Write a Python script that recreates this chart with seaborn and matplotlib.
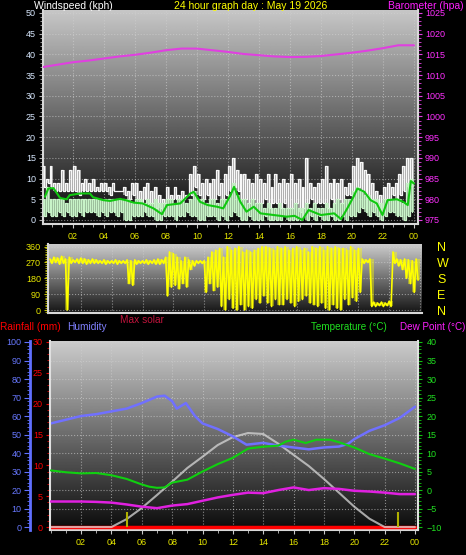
import numpy as np
import matplotlib
matplotlib.use("Agg")
import matplotlib.pyplot as plt
import seaborn as sns
from matplotlib.ticker import MultipleLocator

# ---------------- DATA ----------------
hour_ticks = [2, 4, 6, 8, 10, 12, 14, 16, 18, 20, 22, 24]
hour_labels = ["02", "04", "06", "08", "10", "12", "14", "16", "18", "20", "22", "00"]

slot_h = 0.25  # 15-minute slots, each with a high and a low reading
gust_hi = [13, 10, 13, 9,   9, 12, 9, 12,   13, 12, 9, 10,   9, 10, 8, 9,
           9, 8, 9, 7,      7, 8, 7, 9,     9, 7, 8, 9,      7, 8, 6, 5,
           8, 6, 8, 6,      7, 6, 11, 13,   11, 9, 10, 9,    10, 12, 9, 11,
           13, 15, 12, 11,  11, 10, 9, 11,  10, 9, 11, 8,    11, 9, 10, 9,
           11, 9, 10, 8,    15, 9, 8, 9,    10, 13, 9, 10,   9, 10, 8, 9,
           13, 15, 14, 12,  11, 9, 7, 6,    8, 9, 8, 9,      11, 13, 15, 15]
gust_lo = [8, 9, 8, 7,   7, 7, 7, 7,   7, 6, 7, 7,   7, 7, 7, 7,
           7, 6, 7, 7,   7, 6, 5, 6,   5, 4, 5, 4,   4, 3, 3, 4,
           5, 5, 5, 5,   5, 6, 6, 8,   6, 5, 6, 5,   5, 6, 5, 6,
           7, 8, 7, 5,   5, 4, 5, 4,   4, 5, 3, 4,   4, 3, 4, 3,
           3, 4, 2, 3,   4, 5, 4, 4,   4, 3, 5, 4,   5, 4, 6, 6,
           7, 8, 7, 6,   5, 4, 3, 2,   5, 5, 6, 5,   6, 7, 8, 8]
speed_hi = [5, 8, 5, 5,  5, 5, 4, 5,  5, 5, 5, 5,  5, 5, 5, 5,
            5, 5, 5, 5,  5, 5, 5, 4,  5, 5, 4, 5,  4, 5, 4, 4,
            5, 5, 4, 5,  5, 4, 5, 7,  5, 5, 4, 5,  5, 4, 5, 5,
            6, 9, 6, 5,  5, 4, 5, 4,  4, 3, 4, 3,  3, 4, 3, 3,
            3, 4, 3, 3,  4, 3, 4, 3,  3, 4, 3, 4,  5, 4, 5, 5,
            7, 8, 7, 6,  6, 5, 5, 4,  5, 5, 5, 5,  5, 4, 9, 10]
speed_lo = [1, 2, 1, 1,  2, 1, 2, 1,  1, 2, 1, 2,  2, 2, 1, 2,
            1, 2, 2, 1,  2, 0, 0, 1,  1, 1, 2, 1,  1, 0, 0, 1,
            1, 1, 0, 1,  1, 2, 1, 1,  0, 0, 1, 1,  1, 0, 1, 0,
            1, 2, 1, 0,  0, 1, 0, 0,  0, 1, 0, 0,  0, 0, 1, 0,
            0, 0, 0, 1,  0, 1, 0, 1,  0, 0, 1, 0,  0, 1, 0, 1,
            1, 2, 3, 2,  1, 2, 1, 0,  1, 2, 2, 1,  1, 0, 1, 2]
avg_time = [0.2, 0.42, 0.75, 1.18, 1.6, 1.8, 2.47, 3.1, 3.3, 3.96, 4.4, 5.05, 5.5,
            5.9, 6.5, 7.2, 7.75, 8.07, 8.93, 9.58, 9.8, 10.2, 10.7, 11.3, 11.7, 12.17,
            12.4, 12.8, 13.2, 13.67, 14.1, 14.95, 15.8, 16.3, 16.8, 17.2, 18.0, 18.85,
            19.3, 19.7, 20.1, 20.35, 20.8, 21.2, 21.6, 21.97, 22.3, 22.9, 23.3, 23.6,
            23.8, 24.0]
avg_speed = [5.6, 7.6, 7.7, 5.3, 5.0, 6.0, 6.4, 6.4, 5.5, 4.8, 4.6, 5.1, 4.7,
             4.2, 4.0, 2.8, 1.4, 3.6, 4.0, 6.4, 6.8, 4.4, 3.6, 3.2, 2.8, 6.0,
             8.0, 4.4, 2.0, 3.2, 1.6, 1.2, 0.8, 1.0, 0.0, 2.4, 1.2, 1.6,
             0.2, 2.8, 5.6, 7.6, 6.8, 4.8, 4.0, 1.2, 4.8, 5.0, 4.4, 3.6,
             9.4, 8.8]
baro_time = list(range(25))
baro_hpa = [1011.9, 1012.5, 1013.1, 1013.5, 1014.0, 1014.5, 1014.9, 1015.4, 1016.0,
            1016.4, 1016.4, 1016.0, 1015.6, 1015.1, 1014.8, 1014.5, 1014.35, 1014.4,
            1014.6, 1015.0, 1015.4, 1015.9, 1016.5, 1017.2, 1017.2]

dir_hi = [290, 300, 295, 305,  290, 300, 285, 290,  295, 290, 285, 290,  285, 280, 285, 280,
          280, 285, 280, 280,  285, 280, 285, 280,  280, 285, 280, 285,  290, 285, 300, 330,
          320, 300, 280, 300,  285, 280, 280, 280,  280, 300, 330, 340,  350, 300, 360, 340,
          350, 360, 330, 340,  330, 340, 350, 360,  360, 350, 340, 360,  350, 360, 340, 350,
          360, 340, 350, 330,  360, 350, 360, 340,  360, 350, 360, 350,  350, 340, 360, 340,
          350, 290, 285, 290,  45, 40, 45, 40,     50, 330, 290, 285,  290, 285, 280, 290]
dir_lo = [265, 270, 260, 265,  0, 265, 270, 265,    265, 260, 265, 265,  265, 265, 260, 265,
          265, 260, 265, 265,  150, 140, 260, 265,  265, 260, 265, 260,  260, 265, 80, 130,
          140, 120, 150, 130,  230, 250, 265, 265,  100, 150, 110, 130,  20, 0, 60, 10,
          0, 30, 0, 20,        10, 60, 40, 80,      40, 20, 60, 30,      30, 60, 40, 20,
          50, 60, 80, 40,      30, 20, 40, 10,      0, 30, 10, 0,        60, 30, 70, 50,
          100, 265, 270, 20,   20, 25, 20, 25,      20, 265, 250, 230,   180, 150, 100, 170]
dir_ticks = [360, 270, 180, 90, 0]
dir_labels = ["N", "W", "S", "E", "N"]

hum_time = [0, 1, 2, 3, 4, 5, 6, 7, 7.5, 8, 8.3, 8.9, 9.5, 10, 11, 12, 12.9, 14, 15, 16,
            17, 18, 19, 19.6, 20, 21, 22, 23, 24]
hum_pct = [56, 58, 60, 61, 62.5, 64, 67, 70.5, 71, 68, 64, 67, 60, 56, 53, 49, 44.5, 45.5,
           44, 43, 42, 43, 43.5, 45, 47.5, 52, 55, 59, 65]
temp_time = [0, 1, 2, 3, 4, 5, 6, 6.5, 7, 7.5, 8, 9, 10, 11, 12, 13, 14, 15, 15.5, 16,
             16.8, 17.5, 18.4, 19, 20, 21, 22, 23, 24]
temp_c = [5.3, 4.8, 4.5, 4.6, 4.0, 3.0, 1.5, 0.9, 0.6, 0.7, 2.0, 2.8, 5.0, 7.0, 8.7, 11.2,
          11.7, 12.0, 13.1, 13.6, 12.7, 13.6, 13.6, 12.9, 11.5, 9.7, 8.5, 7.2, 5.7]
dew_time = list(range(25))
dew_c = [-3.1, -3.1, -3.1, -3.2, -3.4, -3.9, -4.5, -4.9, -4.2, -3.8, -2.9, -2.0, -1.3,
         -0.7, -0.85, 0.0, 0.7, 0.0, 0.5, 0.3, -0.2, -0.4, -0.7, -1.1, -1.1]
solar_time = list(range(25))
solar_val = [0, 0, 0, 0, 0, 4.3, 10.3, 17.3, 24.5, 31.9, 38.0, 44.3, 48.6, 50.8, 50.3,
             45.0, 39.0, 33.0, 26.0, 18.5, 11.0, 4.5, 0, 0, 0]
rain_time = [0, 24]
rain_mm = [0, 0]
marker_time = [5.05, 22.9]
marker_len = [8.3, 8.3]

# ---------------- STYLE ----------------
sns.set_style("dark")
plt.rcParams['font.family'] = ['Liberation Sans', 'DejaVu Sans']

W, H = 466, 555
fig = plt.figure(figsize=(W / 100, H / 100), dpi=100, facecolor='black')


def rect(l, t, r, b):
    return [l / W, 1 - b / H, (r - l) / W, (b - t) / H]


def gradient(ax, top, bottom):
    g = np.linspace(top, bottom, 256).reshape(-1, 1)
    ax.imshow(g, cmap='gray', vmin=0, vmax=1, aspect='auto', extent=(0, 1, 0, 1),
              transform=ax.transAxes, zorder=0, interpolation='bilinear')


def frame(ax):
    ax.set_facecolor('black')
    for s in ax.spines.values():
        s.set_visible(False)
    for s in ('left', 'bottom'):
        ax.spines[s].set_visible(True)
        ax.spines[s].set_color('#d8d8d8')
        ax.spines[s].set_linewidth(1.5)
    ax.grid(True, color='#d0d0d0', ls=':', lw=0.8, alpha=0.6)


def fpx(x, y, s, **kw):
    fig.text(x / W, 1 - y / H, s, va='center', **kw)


t_slot = np.arange(len(gust_hi)) * slot_h
t_edges = np.append(t_slot, t_slot[-1] + slot_h)


def zigzag(hi, lo):
    x = np.column_stack([t_slot, t_slot + slot_h / 2]).ravel()
    y = np.column_stack([hi, lo]).ravel()
    return x, y


def band(ax, hi, lo, color, alpha, z):
    ax.fill_between(t_edges, np.append(lo, lo[-1]), np.append(hi, hi[-1]), step='post',
                    color=color, alpha=alpha, lw=0, zorder=z)


# ---------------- PANEL 1 : wind + barometer ----------------
ax1 = fig.add_axes(rect(43, 10, 418, 224))
frame(ax1)
gradient(ax1, 0.78, 0.04)
band(ax1, gust_hi, gust_lo, '#d0d0d0', 0.68, 2.5)
gx, gy = zigzag(gust_hi, gust_lo)
sns.lineplot(x=gx, y=gy, ax=ax1, color='#f8f8f8', lw=0.9, drawstyle='steps-post',
             sort=False, estimator=None, legend=False, zorder=3)
band(ax1, speed_hi, speed_lo, '#c4f0c4', 0.7, 3.5)
sx, sy = zigzag(speed_hi, speed_lo)
sns.lineplot(x=sx, y=sy, ax=ax1, color='#c8f4c8', lw=0.9, drawstyle='steps-post',
             sort=False, estimator=None, legend=False, zorder=4)
sns.lineplot(x=avg_time, y=avg_speed, ax=ax1, color='#10c810', lw=1.5,
             sort=False, estimator=None, legend=False, zorder=5)
ax1.set_xlim(0.077, 24.26)
ax1.set_ylim(-0.97, 50.72)
ax1.set_xticks(hour_ticks)
ax1.set_xticklabels(hour_labels)
ax1.xaxis.set_minor_locator(MultipleLocator(2 / 3))
ax1.set_yticks(range(0, 51, 5))
ax1.yaxis.set_minor_locator(MultipleLocator(1))
ax1.tick_params(axis='x', which='both', bottom=True, colors='#c8c8c8', labelcolor='#e8e800',
                labelsize=6.5, length=3, pad=3, direction='out')
ax1.tick_params(axis='y', which='both', left=True, colors='#b0b0b0', labelcolor='#d8e8ff',
                labelsize=6.5, length=3, pad=2, direction='out')
ax1.tick_params(which='minor', length=2)
ax1.set_xlabel('')
ax1.set_ylabel('')

ax1b = ax1.twinx()
for s in ax1b.spines.values():
    s.set_visible(False)
ax1b.spines['right'].set_visible(True)
ax1b.spines['right'].set_color('#d8d8d8')
ax1b.spines['right'].set_linewidth(1.5)
sns.lineplot(x=baro_time, y=baro_hpa, ax=ax1b, color='#e040e0', lw=1.5,
             sort=False, estimator=None, legend=False)
ax1b.set_ylim(974.03, 1025.72)
ax1b.set_yticks(range(975, 1026, 5))
ax1b.yaxis.set_minor_locator(MultipleLocator(1))
ax1b.tick_params(axis='y', which='both', right=True, colors='#e040e0', labelcolor='#ff30ff',
                 labelsize=6.5, length=3, pad=2, direction='out')
ax1b.tick_params(which='minor', length=2)
ax1b.grid(False)
ax1b.set_ylabel('')

# ---------------- PANEL 2 : wind direction ----------------
ax2 = fig.add_axes(rect(48, 244, 422, 313))
frame(ax2)
gradient(ax2, 0.80, 0.08)
band(ax2, dir_hi, dir_lo, '#ffff00', 0.4, 2.5)
dx, dy = zigzag(dir_hi, dir_lo)
sns.lineplot(x=dx, y=dy, ax=ax2, color='#ffff00', lw=1.2, sort=False, estimator=None,
             legend=False, zorder=3)
ax2.set_xlim(-0.13, 24.13)
ax2.set_ylim(-17, 375)
ax2.set_xticks(hour_ticks)
ax2.set_xticklabels([])
ax2.tick_params(axis='x', which='both', length=0)
ax2.set_yticks([0, 90, 180, 270, 360])
ax2.yaxis.set_minor_locator(MultipleLocator(10))
ax2.tick_params(axis='y', which='both', left=True, colors='#c8c800', labelcolor='#e8e800',
                labelsize=6.5, length=3, pad=2, direction='out')
ax2.tick_params(axis='y', which='minor', length=2)
ax2.set_xlabel('')
ax2.set_ylabel('')

ax2r = ax2.twinx()
for s in ax2r.spines.values():
    s.set_visible(False)
ax2r.set_ylim(-17, 375)
ax2r.set_yticks(dir_ticks)
ax2r.set_yticklabels(dir_labels)
ax2r.tick_params(axis='y', right=True, length=0, pad=11, labelsize=9, labelcolor='#ffff00')
ax2r.grid(False)

# ---------------- PANEL 3 : temp / humidity / dew / rain / solar ----------------
ax3 = fig.add_axes(rect(50, 341, 418, 530))
frame(ax3)
gradient(ax3, 0.80, 0.04)
ax3.spines['left'].set_position(('outward', 14.4))
ax3.spines['left'].set_color('#6070ff')
ax3.spines['left'].set_linewidth(2)
sns.lineplot(x=rain_time, y=rain_mm, ax=ax3, color='#ff0000', lw=2.5, sort=False,
             estimator=None, legend=False, zorder=3)
sns.lineplot(x=solar_time, y=solar_val, ax=ax3, color='#d8d8d8', lw=1.5, alpha=0.75,
             sort=False, estimator=None, legend=False, zorder=4)
ax3.vlines(marker_time, 0, marker_len, color='#b0b000', lw=1.5, zorder=5)
sns.lineplot(x=hum_time, y=hum_pct, ax=ax3, color='#7070ff', lw=1.8, sort=False,
             estimator=None, legend=False, zorder=6)
ax3.set_xlim(-0.05, 24.2)
ax3.set_ylim(-1.6, 100.54)
ax3.set_xticks(hour_ticks)
ax3.set_xticklabels(hour_labels)
ax3.xaxis.set_minor_locator(MultipleLocator(1))
ax3.set_yticks(range(0, 101, 10))
ax3.yaxis.set_minor_locator(MultipleLocator(2))
ax3.tick_params(axis='x', which='both', bottom=True, colors='#c8c8c8', labelcolor='#e8e800',
                labelsize=6.5, length=3, pad=3, direction='out')
ax3.tick_params(axis='y', which='both', left=True, colors='#6070ff', labelcolor='#6878ff',
                labelsize=6.5, length=4, pad=2, direction='out')
ax3.tick_params(which='minor', length=2)
ax3.set_xlabel('')
ax3.set_ylabel('')

ax3r = ax3.twinx()
for s in ax3r.spines.values():
    s.set_visible(False)
ax3r.spines['left'].set_visible(True)
ax3r.spines['left'].set_color('#e0e0e0')
ax3r.spines['left'].set_linewidth(1.5)
ax3r.yaxis.tick_left()
ax3r.set_ylim(-0.48, 30.16)
ax3r.set_yticks(range(0, 31, 5))
ax3r.yaxis.set_minor_locator(MultipleLocator(1))
ax3r.tick_params(axis='y', which='both', left=True, right=False, colors='#e00000',
                 labelcolor='#ff0000', labelsize=6.5, length=3, pad=2, direction='out')
ax3r.tick_params(which='minor', length=2)
ax3r.grid(False)

ax3t = ax3.twinx()
for s in ax3t.spines.values():
    s.set_visible(False)
ax3t.spines['right'].set_visible(True)
ax3t.spines['right'].set_color('#e0e0e0')
ax3t.spines['right'].set_linewidth(1.5)
sns.lineplot(x=temp_time, y=temp_c, ax=ax3t, color='#10d010', lw=1.5, sort=False,
             estimator=None, legend=False)
sns.lineplot(x=dew_time, y=dew_c, ax=ax3t, color='#e020e0', lw=1.8, sort=False,
             estimator=None, legend=False)
ax3t.set_ylim(-10.8, 40.27)
ax3t.set_yticks(range(-10, 41, 5))
ax3t.yaxis.set_minor_locator(MultipleLocator(1))
ax3t.tick_params(axis='y', which='both', right=True, colors='#10c010', labelcolor='#20e020',
                 labelsize=6.5, length=3, pad=3, direction='out')
ax3t.tick_params(which='minor', length=2)
ax3t.grid(False)
ax3t.set_ylabel('')

# ---------------- TEXT ----------------
fpx(34, 6, "Windspeed (kph)", color='white', fontsize=7.5, ha='left')
fpx(251, 6, "24 hour graph day : May 19 2026", color='#ffff00', fontsize=7.5, ha='center')
fpx(464, 6, "Barometer (hpa)", color='#ff20ff', fontsize=7.5, ha='right')
fpx(0, 327, "Rainfall (mm)", color='#ff0000', fontsize=7.3, ha='left')
fpx(67, 327, "Humidity", color='#8080ff', fontsize=7.3, ha='left')
fpx(120, 320, "Max solar", color='#c0143c', fontsize=7.3, ha='left')
fpx(311, 327, "Temperature (°C)", color='#20e020', fontsize=7.1, ha='left')
fpx(465, 327, "Dew Point (°C)", color='#ff20ff', fontsize=7.1, ha='right')

fig.savefig("out.png", dpi=100, facecolor='black')
